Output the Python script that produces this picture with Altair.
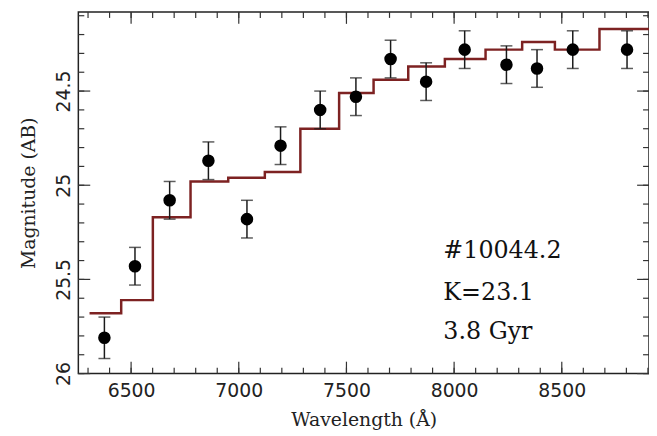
import altair as alt
import pandas as pd

# Observed photometry
wavelength = [6376, 6518, 6679, 6859, 7038, 7194, 7378, 7544, 7705, 7870, 8049, 8243, 8385, 8551, 8803]
magnitude = [25.81, 25.43, 25.08, 24.87, 25.18, 24.79, 24.60, 24.53, 24.33, 24.45, 24.28, 24.36, 24.38, 24.28, 24.28]
mag_error = [0.11, 0.10, 0.10, 0.10, 0.10, 0.10, 0.10, 0.10, 0.10, 0.10, 0.10, 0.10, 0.10, 0.10, 0.10]

# Model (step) spectrum: bin edges and level per bin
model_edges = [6307, 6454, 6601, 6776, 6951, 7121, 7286, 7466, 7626, 7787, 7957, 8146, 8316, 8468, 8675, 8905]
model_mag = [25.68, 25.61, 25.17, 24.98, 24.96, 24.93, 24.70, 24.51, 24.44, 24.37, 24.33, 24.28, 24.24, 24.28, 24.17]

# Axis ticks
x_major = [6500, 7000, 7500, 8000, 8500]
x_minor = list(range(6300, 9000, 100))
y_major = [24.5, 25.0, 25.5, 26.0]
y_minor = [24.1, 24.2, 24.3, 24.4, 24.5, 24.6, 24.7, 24.8, 24.9, 25.0,
           25.1, 25.2, 25.3, 25.4, 25.5, 25.6, 25.7, 25.8, 25.9, 26.0]

# Annotation
ann_labels = ["#10044.2", "K=23.1", "3.8 Gyr"]
ann_wl = [7950, 7950, 7950]
ann_mag = [25.386, 25.607, 25.816]

W, H = 576, 365

obs = pd.DataFrame({"wl": wavelength, "mag": magnitude, "err": mag_error})
obs["lo"] = obs["mag"] - obs["err"]
obs["hi"] = obs["mag"] + obs["err"]

model = pd.DataFrame({"wl": model_edges, "mag": model_mag + [model_mag[-1]]})
ann = pd.DataFrame({"label": ann_labels, "wl": ann_wl, "mag": ann_mag})

xs = alt.Scale(domain=[6255, 8905], nice=False, zero=False)
ys = alt.Scale(domain=[24.08, 26], nice=False, zero=False, reverse=True)

x_axis = alt.Axis(values=x_major, format="d", ticks=False, domain=False, grid=False,
                  labelFont="DejaVu Sans", labelFontSize=19, labelColor="#222",
                  labelPadding=8, title="Wavelength (Å)", titleFont="DejaVu Serif",
                  titleFontSize=19, titleFontWeight="normal", titleColor="#222",
                  titleY=52, titleBaseline="alphabetic")
y_axis = alt.Axis(values=y_major, format="~g", ticks=False, domain=False, grid=False,
                  labelFont="DejaVu Sans", labelFontSize=19, labelColor="#222",
                  labelAngle=270, labelAlign="center", labelBaseline="alphabetic",
                  labelPadding=9, title="Magnitude (AB)", titleFont="DejaVu Serif",
                  titleFontSize=19, titleFontWeight="normal", titleColor="#222",
                  titleAngle=270, titleX=-44, titleY=H / 2, titleAlign="center",
                  titleBaseline="alphabetic")

X = alt.X("wl:Q", scale=xs, axis=x_axis)
Y = alt.Y("mag:Q", scale=ys, axis=y_axis)

line = alt.Chart(model).mark_line(interpolate="step-after", color="#7d2222",
                                  strokeWidth=2.5, clip=True).encode(x=X, y=Y)
bars = alt.Chart(obs).mark_rule(color="#1a1a1a", strokeWidth=1.5).encode(
    x=X, y=alt.Y("lo:Q", scale=ys, axis=y_axis), y2="hi:Q")
cap_lo = alt.Chart(obs).mark_tick(orient="horizontal", size=12, thickness=1.5, color="#1a1a1a").encode(
    x=X, y=alt.Y("lo:Q", scale=ys, axis=y_axis))
cap_hi = alt.Chart(obs).mark_tick(orient="horizontal", size=12, thickness=1.5, color="#1a1a1a").encode(
    x=X, y=alt.Y("hi:Q", scale=ys, axis=y_axis))
pts = alt.Chart(obs).mark_circle(size=160, color="black", opacity=1).encode(x=X, y=Y)
text = alt.Chart(ann).mark_text(align="left", baseline="alphabetic", font="DejaVu Serif",
                                fontSize=24, color="#111").encode(x=X, y=Y, text="label:N")


def xticks(vals, length):
    df = pd.DataFrame({"wl": vals})
    bottom = alt.Chart(df).mark_rule(color="#333", strokeWidth=1.2).encode(
        x=X, y=alt.value(H), y2=alt.value(H - length))
    top = alt.Chart(df).mark_rule(color="#333", strokeWidth=1.2).encode(
        x=X, y=alt.value(0), y2=alt.value(length))
    return [bottom, top]


def yticks(vals, length):
    df = pd.DataFrame({"mag": vals})
    left = alt.Chart(df).mark_rule(color="#333", strokeWidth=1.2).encode(
        y=Y, x=alt.value(0), x2=alt.value(length))
    right = alt.Chart(df).mark_rule(color="#333", strokeWidth=1.2).encode(
        y=Y, x=alt.value(W), x2=alt.value(W - length))
    return [left, right]


layers = (xticks(x_minor, 6) + xticks(x_major, 12) + yticks(y_minor, 6) + yticks(y_major, 12)
          + [line, bars, cap_lo, cap_hi, pts, text])

chart = alt.layer(*layers).properties(
    width=W, height=H,
    autosize=alt.AutoSizeParams(type="none"),
    padding={"left": 71, "top": 2, "right": 0, "bottom": 60},
).configure_view(stroke="#222", strokeWidth=1.5)

chart.save("out.html", embed_options={"renderer": "svg", "actions": False})
